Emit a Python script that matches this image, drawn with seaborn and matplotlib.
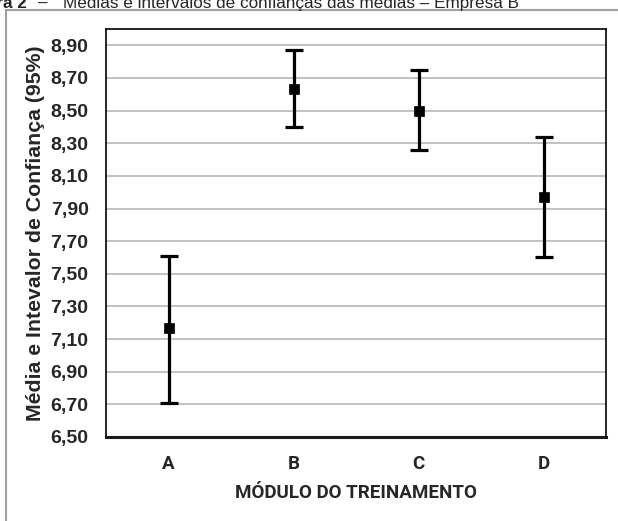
import numpy as np
import pandas as pd
import seaborn as sns
import matplotlib.pyplot as plt
from matplotlib.lines import Line2D

# dados (média e limites do IC 95%)
modulos = ['A', 'B', 'C', 'D']
medias = [7.17, 8.63, 8.50, 7.97]
limite_inf = [6.71, 8.40, 8.26, 7.60]
limite_sup = [7.61, 8.87, 8.75, 8.34]
y_ticks = [6.50, 6.70, 6.90, 7.10, 7.30, 7.50, 7.70, 7.90, 8.10, 8.30, 8.50, 8.70, 8.90]

df = pd.DataFrame({'modulo': modulos, 'media': medias,
                   'inf': limite_inf, 'sup': limite_sup})

sns.set_style('white')
plt.rcParams['font.family'] = ['Liberation Sans', 'DejaVu Sans']
fonte_estreita = ['Roboto', 'Liberation Sans', 'DejaVu Sans']

fig = plt.figure(figsize=(6.18, 5.21), dpi=100)
ax = fig.add_axes([106 / 618, 1 - 437 / 521, 500 / 618, 408 / 521])

# linhas de grade por baixo
for yv in y_ticks[1:]:
    ax.axhline(yv, color='#b8b8b8', lw=1.2, zorder=0)

# intervalos de confiança
x = np.arange(len(modulos))
err = [df['media'] - df['inf'], df['sup'] - df['media']]
ax.errorbar(x, df['media'], yerr=err, fmt='none', ecolor='black',
            elinewidth=2.3, capsize=6.5, capthick=2.3, zorder=2)

# médias
sns.scatterplot(data=df, x='modulo', y='media', marker='s', s=48,
                color='black', edgecolor='black', linewidth=0.5, ax=ax, zorder=3)

ax.set_xlim(-0.5, 3.5)
ax.set_ylim(6.5, 9.0)
ax.set_yticks(y_ticks)
ax.set_yticklabels([f'{v:.2f}'.replace('.', ',') for v in y_ticks],
                   fontsize=14, fontweight='bold')
ax.set_xticks(x)
ax.set_xticklabels(modulos, fontsize=13.5, fontweight='bold', family=fonte_estreita)
ax.set_xticks(np.arange(-0.5, 4, 1), minor=True)
ax.tick_params(axis='x', which='major', length=0, pad=13)
ax.tick_params(axis='x', which='minor', length=4, width=1.2, color='black', direction='out')
ax.tick_params(axis='y', length=3.6, width=1.2, color='black', direction='out', pad=9)

ax.set_xlabel('MÓDULO DO TREINAMENTO', fontsize=13.5, fontweight='bold',
              family=fonte_estreita, labelpad=8)
ax.set_ylabel('Média e Intevalor de Confiança (95%)', fontsize=15.3,
              fontweight='bold', labelpad=4)

for side in ['top', 'right', 'left']:
    ax.spines[side].set_color('black')
    ax.spines[side].set_linewidth(1.2)
ax.spines['bottom'].set_color('#1a1a1a')
ax.spines['bottom'].set_linewidth(2.2)

# moldura externa cinza (cortada à direita e embaixo)
fig.add_artist(Line2D([6 / 618, 6 / 618], [0, 1 - 10 / 521], color='#a0a0a0', lw=1.5))
fig.add_artist(Line2D([6 / 618, 1], [1 - 10 / 521, 1 - 10 / 521], color='#a0a0a0', lw=1.5))

# título parcialmente cortado no topo, como na imagem original
y_tit = 1 - 8 / 521
fig.text(27 / 618, y_tit, 'Figura 2', ha='right', va='baseline',
         fontsize=12.3, fontweight='bold')
fig.text(38 / 618, y_tit, '–', ha='left', va='baseline', fontsize=12.3)
fig.text(63 / 618, y_tit, 'Médias e intervalos de confianças das médias – Empresa B',
         ha='left', va='baseline', fontsize=12.3)

fig.savefig('out.png', dpi=100)
